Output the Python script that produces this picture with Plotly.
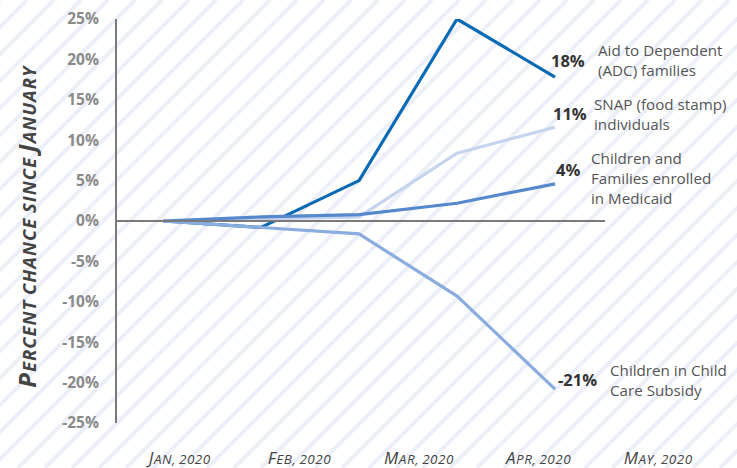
import plotly.graph_objects as go

months = ["Jan, 2020", "Feb, 2020", "Mar, 2020", "Apr, 2020", "May, 2020"]
adc = [0, -0.8, 5.0, 25.0, 17.8]
snap = [0, 0.3, 0.5, 8.4, 11.6]
medicaid = [0, 0.5, 0.8, 2.2, 4.6]
childcare = [0, -0.8, -1.6, -9.3, -20.8]

series_names = ["Aid to Dependent<br>(ADC) families", "SNAP (food stamp)<br>individuals",
                "Children and<br>Families enrolled<br>in Medicaid", "Children in Child<br>Care Subsidy"]
end_labels = ["18%", "11%", "4%", "-21%"]
series = [adc, snap, medicaid, childcare]
colors = ["#0a6ab5", "#c5d4ee", "#5588cc", "#8aacdf"]
yticks = [25, 20, 15, 10, 5, 0, -5, -10, -15, -20, -25]

# label offsets (px) for end-of-line annotations
pct_dx = [13, 15, 13, 22]
pct_dy = [17, 14, 14, 10]
name_dx = [41, 37, 34, 53]
name_dy = [17, 13, 6, 9]

W, H = 737, 468
T, B = 19, 45
PH = H - T - B
FONT = "Open Sans"

def smallcaps(s, big=15, small=11, spacing=0):
    out = []
    for word in s.split(" "):
        parts = []
        for ch in word:
            if ch.isupper():
                parts.append(f"<span style='font-size:{big}px;letter-spacing:{spacing}px'>{ch}</span>")
            else:
                parts.append(f"<span style='font-size:{small}px;letter-spacing:{spacing}px'>{ch.upper()}</span>")
        out.append("".join(parts))
    return " ".join(out)

fig = go.Figure()
xs = list(range(len(months)))
for s, c in zip(series, colors):
    fig.add_trace(go.Scatter(x=xs, y=s, mode="lines", line=dict(color=c, width=3.2),
                             hoverinfo="skip", showlegend=False, xaxis="x", yaxis="y"))

fig.add_trace(go.Scatter(x=months, y=[None]*len(months), mode="markers", xaxis="x2", yaxis="y",
                         showlegend=False, hoverinfo="skip"))

for s, lab, name, pdx, pdy, ndx, ndy in zip(series, end_labels, series_names, pct_dx, pct_dy, name_dx, name_dy):
    fig.add_annotation(x=xs[-1], y=s[-1], xref="x", yref="y", text=f"<b>{lab}</b>",
                       showarrow=False, xanchor="center", yanchor="middle", xshift=pdx, yshift=pdy,
                       font=dict(family=FONT, size=16.5, color="#333333"))
    fig.add_annotation(x=xs[-1], y=s[-1], xref="x", yref="y", text=name,
                       showarrow=False, xanchor="left", yanchor="middle", xshift=ndx, yshift=ndy,
                       align="left", font=dict(family=FONT, size=15.2, color="#555555"))

shapes = []
step = 27
for x0 in range(-H, W + step, step):
    shapes.append(dict(type="line", xref="paper", yref="paper",
                       x0=x0 / W, y0=-B / PH, x1=(x0 + H) / W, y1=(PH + T) / PH,
                       line=dict(color="#eceff7", width=4), layer="below"))
shapes.append(dict(type="line", xref="x", yref="y", x0=-0.47, x1=4.51, y0=0, y1=0,
                   line=dict(color="#7a7a7a", width=2), layer="above"))
fig.update_layout(shapes=shapes)

fig.add_annotation(x=8 / W, y=0.487, xref="paper", yref="paper", textangle=-90,
                   xanchor="left", yanchor="middle",
                   text="<b><i>" + smallcaps("Percent chance since January", 24, 18.5, 1) + "</i></b>",
                   showarrow=False, font=dict(family=FONT, size=18, color="#444444"))

fig.update_layout(
    width=W, height=H,
    margin=dict(l=0, r=0, t=T, b=B),
    paper_bgcolor="white", plot_bgcolor="rgba(0,0,0,0)",
    xaxis=dict(domain=[117 / W, 605 / W], range=[-0.47, 4.51], showgrid=False, zeroline=False,
               showticklabels=False, showline=False, automargin=False),
    xaxis2=dict(domain=[120 / W, 718 / W], range=[-0.5, 4.5], type="category", anchor="y",
                showgrid=False, zeroline=False, showline=False, ticks="outside", ticklen=26,
                tickcolor="rgba(0,0,0,0)", tickvals=months, automargin=False,
                ticktext=["<i>" + smallcaps(m, 17, 13.5, 0.5) + "</i>" for m in months],
                tickfont=dict(family=FONT, size=12, color="#444444")),
    yaxis=dict(range=[-25, 25], tickvals=yticks, ticktext=[f"<b>{v}%</b>" for v in yticks],
               showgrid=False, zeroline=False, showline=True, linecolor="#7a7a7a", linewidth=2,
               ticks="", ticklabelstandoff=13, automargin=False,
               tickfont=dict(family=FONT, size=15.5, color="#8a8a8a")),
)

fig.write_html("out.html", config={"displayModeBar": False},
               post_script="document.body.style.margin='0';document.body.style.overflow='hidden';")
